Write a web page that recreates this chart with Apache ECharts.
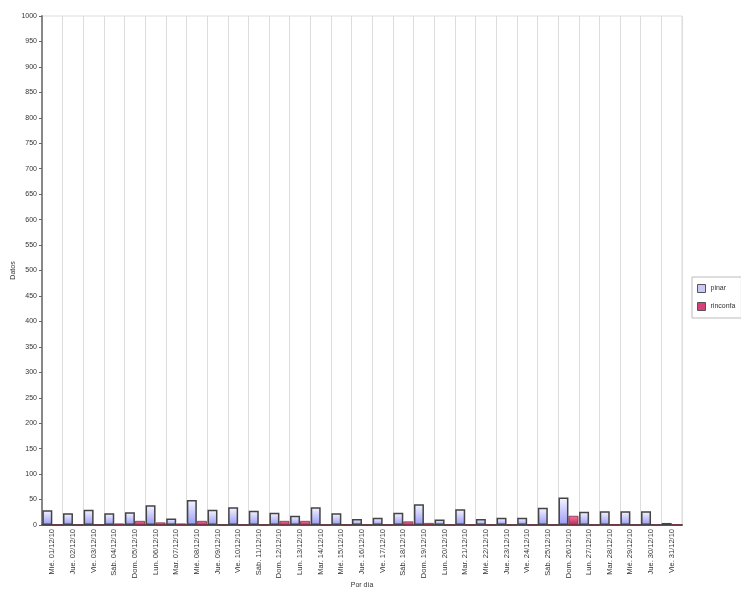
<!DOCTYPE html>
<html><head><meta charset="utf-8">
<script src="https://cdn.jsdelivr.net/npm/echarts@6/dist/echarts.min.js"></script>
<style>html,body{margin:0;padding:0;background:#fff}#c{width:741px;height:589px}</style>
</head><body><div id="c"></div>
<script>
const categories = ["Mié. 01/12/10","Jue. 02/12/10","Vie. 03/12/10","Sáb. 04/12/10","Dom. 05/12/10","Lun. 06/12/10","Mar. 07/12/10","Mié. 08/12/10","Jue. 09/12/10","Vie. 10/12/10","Sáb. 11/12/10","Dom. 12/12/10","Lun. 13/12/10","Mar. 14/12/10","Mié. 15/12/10","Jue. 16/12/10","Vie. 17/12/10","Sáb. 18/12/10","Dom. 19/12/10","Lun. 20/12/10","Mar. 21/12/10","Mié. 22/12/10","Jue. 23/12/10","Vie. 24/12/10","Sáb. 25/12/10","Dom. 26/12/10","Lun. 27/12/10","Mar. 28/12/10","Mié. 29/12/10","Jue. 30/12/10","Vie. 31/12/10"];
const pinar = [29,23,30,23,25,39,13,49,30,35,28,24,18,35,23,12,14,24,41,11,31,12,14,14,34,54,26,27,27,27,4];
const rinconfa = [0,0,0,3,8,5,3,8,0,0,0,8,8,0,0,0,0,7,4,0,0,0,0,0,0,18,0,1,0,0,1];
const seriesNames = ["pinar","rinconfa"];

const chart = echarts.init(document.getElementById('c'), null, {renderer:'canvas'});
const pinarFill = new echarts.graphic.LinearGradient(0,0,0,1,[{offset:0,color:'#f6f6ff'},{offset:1,color:'#9a9af7'}]);
const rinFill = new echarts.graphic.LinearGradient(0,0,0,1,[{offset:0,color:'#f07aa8'},{offset:1,color:'#c0245a'}]);
chart.setOption({
  animation:false,
  textStyle:{fontFamily:'Arial, "Liberation Sans", sans-serif'},
  grid:{left:42,right:59,top:16,bottom:64,containLabel:false,outerBoundsMode:'none',show:true,borderColor:'#dddddd',borderWidth:1},
  legend:{
    orient:'vertical', left:692, top:277, itemWidth:8, itemHeight:8, itemGap:9,
    padding:[7,6,7,5], borderColor:'#bbbbbb', borderWidth:1,
    textStyle:{fontSize:7,color:'#333'}, icon:'rect',
    data:[{name:seriesNames[0],itemStyle:{color:'#c8c8f8',borderColor:'#555',borderWidth:1}},
          {name:seriesNames[1],itemStyle:{color:'#d8407a',borderColor:'#555',borderWidth:1}}]
  },
  xAxis:{
    type:'category', data:categories, boundaryGap:true,
    name:'Por día', nameLocation:'middle', nameGap:57, nameMoveOverlap:false,
    nameTextStyle:{fontSize:7,color:'#333'},
    axisLine:{lineStyle:{color:'#555',width:2}},
    axisTick:{show:false},
    axisLabel:{rotate:90,fontSize:7.5,color:'#333',interval:0,margin:4},
    splitLine:{show:true,interval:0,lineStyle:{color:'#dddddd',width:1}}
  },
  yAxis:{
    type:'value', min:0, max:1000, interval:50,
    name:'Datos', nameLocation:'middle', nameGap:25, nameMoveOverlap:false,
    nameTextStyle:{fontSize:7,color:'#333'},
    axisLine:{show:true,lineStyle:{color:'#888',width:2}},
    axisTick:{show:true,length:3,lineStyle:{color:'#666'}},
    axisLabel:{fontSize:7,color:'#333',margin:5,formatter:function(v){return String(v);}},
    splitLine:{show:false}
  },
  series:[
    {name:seriesNames[0],type:'bar',data:pinar,barGap:'0%',barCategoryGap:'0%',barWidth:10,
     itemStyle:{color:pinarFill,borderColor:'#444',borderWidth:1.5}},
    {name:seriesNames[1],type:'bar',data:rinconfa,barWidth:10,
     itemStyle:{color:rinFill,borderColor:'#7a3040',borderWidth:0.8}}
  ]
});
</script></body></html>
